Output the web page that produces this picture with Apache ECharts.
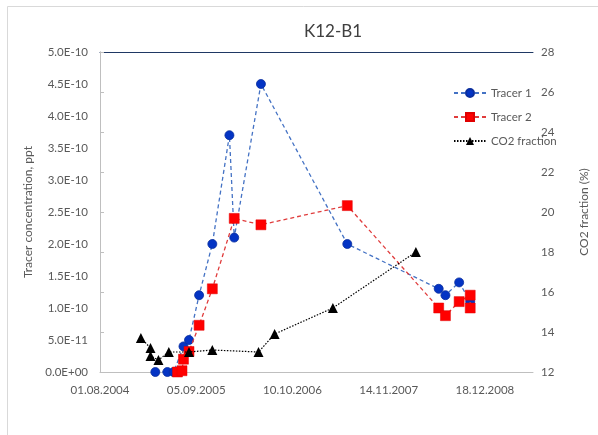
<!DOCTYPE html>
<html>
<head>
<meta charset="utf-8">
<script src="https://cdn.jsdelivr.net/npm/echarts@6/dist/echarts.min.js"></script>
<style>
html,body{margin:0;padding:0;background:#fff;}
#chart{width:598px;height:435px;}
</style>
</head>
<body>
<div id="chart"></div>
<script>
// ---- data ----
var xTickStart = '2004-08-01';
var xTickStepDays = 400;
var xSpanDays = 1800;

var tracer1Dates = ['2005-03-19','2005-05-08','2005-06-03','2005-07-14','2005-08-06','2005-09-17','2005-11-11','2006-01-21','2006-02-10','2006-06-01','2007-05-26','2008-06-09','2008-07-07','2008-09-02','2008-10-18'];
var tracer1Values = [0, 0, 0, 0.4e-10, 0.5e-10, 1.2e-10, 2.0e-10, 3.7e-10, 2.1e-10, 4.5e-10, 2.0e-10, 1.3e-10, 1.2e-10, 1.4e-10, 1.1e-10];

var tracer2Dates = ['2005-06-19','2005-07-08','2005-07-14','2005-08-06','2005-09-17','2005-11-11','2006-02-10','2006-06-01','2007-05-26','2008-06-09','2008-07-07','2008-09-02','2008-10-18','2008-10-18'];
var tracer2Values = [0, 0.02e-10, 0.2e-10, 0.32e-10, 0.73e-10, 1.3e-10, 2.4e-10, 2.3e-10, 2.6e-10, 1.0e-10, 0.88e-10, 1.1e-10, 1.2e-10, 1.0e-10];

var co2Dates = ['2005-01-18','2005-02-27','2005-02-27','2005-04-01','2005-05-14','2005-08-06','2005-11-11','2006-05-22','2006-07-28','2007-03-27','2008-03-06'];
var co2Values = [13.7, 13.2, 12.8, 12.6, 13.0, 13.0, 13.1, 13.0, 13.9, 15.2, 18.0];

var leftTicks = {min: 0, max: 5e-10, step: 0.5e-10};
var rightTicks = {min: 12, max: 28, step: 2};

// ---- helpers ----
function parseD(s){ var p = s.split('-'); return Date.UTC(+p[0], +p[1]-1, +p[2]); }
var base = parseD(xTickStart);
function dayNum(s){ return Math.round((parseD(s) - base) / 86400000); }
function pairs(dates, vals){ return dates.map(function(d,i){ return [dayNum(d), vals[i]]; }); }
function pad(n){ return (n < 10 ? '0' : '') + n; }
function fmtDate(v){
  if (Math.round(v) % xTickStepDays !== 0) return '';
  var d = new Date(base + v * 86400000);
  return pad(d.getUTCDate()) + '.' + pad(d.getUTCMonth()+1) + '.' + d.getUTCFullYear();
}
function fmtExp(v){
  var s = Number(v).toExponential(1);
  var m = s.split('e');
  var e = parseInt(m[1], 10);
  var sign = e < 0 ? '-' : '+';
  return m[0] + 'E' + sign + pad(Math.abs(e));
}

var FONT = 'Lato';
var LBL = '#595959';
var AXC = '#BFBFBF';

var chart = echarts.init(document.getElementById('chart'));
chart.setOption({
  animation: false,
  backgroundColor: '#ffffff',
  textStyle: {fontFamily: FONT},
  title: {
    text: 'K12-B1',
    left: 328, top: 18, textAlign: 'center',
    textStyle: {fontFamily: FONT, fontSize: 17, fontWeight: 'normal', color: '#404040'}
  },
  graphic: [
    {type: 'rect', shape: {x: 7.5, y: 6.5, width: 620, height: 460}, style: {fill: 'none', stroke: '#D9D9D9', lineWidth: 1}, z: -1}
  ],
  grid: {left: 100, right: 41, top: 52, bottom: 63, containLabel: false},
  legend: {
    orient: 'vertical', left: 448, top: 82, itemGap: 12,
    itemWidth: 32, itemHeight: 10,
    textStyle: {fontFamily: FONT, fontSize: 11.5, color: LBL},
    data: ['Tracer 1', 'Tracer 2', 'CO2 fraction']
  },
  xAxis: [
    {
      type: 'value', min: 0, max: xSpanDays, interval: xTickStepDays,
      axisLine: {show: true, lineStyle: {color: AXC, width: 1}},
      axisTick: {show: false},
      splitLine: {show: false},
      axisLabel: {formatter: fmtDate, showMaxLabel: false, margin: 12, fontFamily: FONT, fontSize: 11.5, color: LBL}
    },
    {
      type: 'value', position: 'top', min: 0, max: xSpanDays,
      axisLine: {show: true, lineStyle: {color: '#1F3864', width: 1}},
      axisTick: {show: false}, axisLabel: {show: false}, splitLine: {show: false}
    }
  ],
  yAxis: [
    {
      type: 'value', min: leftTicks.min, max: leftTicks.max, interval: leftTicks.step,
      name: 'Tracer concentration, ppt', nameLocation: 'middle', nameGap: 56, nameRotate: 90,
      nameTextStyle: {fontFamily: FONT, fontSize: 12, color: LBL},
      axisLine: {show: true, lineStyle: {color: AXC, width: 1}},
      axisTick: {show: false},
      splitLine: {show: false},
      axisLabel: {formatter: fmtExp, margin: 12, fontFamily: FONT, fontSize: 11.5, color: LBL}
    },
    {
      type: 'value', position: 'right', min: rightTicks.min, max: rightTicks.max, interval: rightTicks.step,
      name: 'CO2 fraction (%)', nameLocation: 'middle', nameGap: 45, nameRotate: 90,
      nameTextStyle: {fontFamily: FONT, fontSize: 12, color: LBL},
      axisLine: {show: true, lineStyle: {color: AXC, width: 1}},
      axisTick: {show: true, inside: false, length: 4, lineStyle: {color: AXC}},
      splitLine: {show: false},
      axisLabel: {margin: 8, fontFamily: FONT, fontSize: 11.5, color: LBL}
    }
  ],
  series: [
    {
      name: 'Tracer 1', type: 'line', xAxisIndex: 0, yAxisIndex: 0,
      data: pairs(tracer1Dates, tracer1Values),
      symbol: 'circle', symbolSize: 9,
      itemStyle: {color: '#0434C4', borderColor: '#0A2E9E', borderWidth: 0.8},
      lineStyle: {color: '#4472C4', width: 1.3, type: [4, 3]},
      z: 3
    },
    {
      name: 'Tracer 2', type: 'line', xAxisIndex: 0, yAxisIndex: 0,
      data: pairs(tracer2Dates, tracer2Values),
      symbol: 'rect', symbolSize: 10,
      itemStyle: {color: '#FF0000', borderColor: '#E00000', borderWidth: 0.5},
      lineStyle: {color: '#E03C3C', width: 1.3, type: [4, 3]},
      z: 4
    },
    {
      name: 'CO2 fraction', type: 'line', xAxisIndex: 0, yAxisIndex: 1,
      data: pairs(co2Dates, co2Values),
      symbol: 'triangle', symbolSize: 10,
      itemStyle: {color: '#000000'},
      lineStyle: {color: '#000000', width: 1.2, type: [1.5, 1.5]},
      z: 5
    }
  ]
});
</script>
</body>
</html>
